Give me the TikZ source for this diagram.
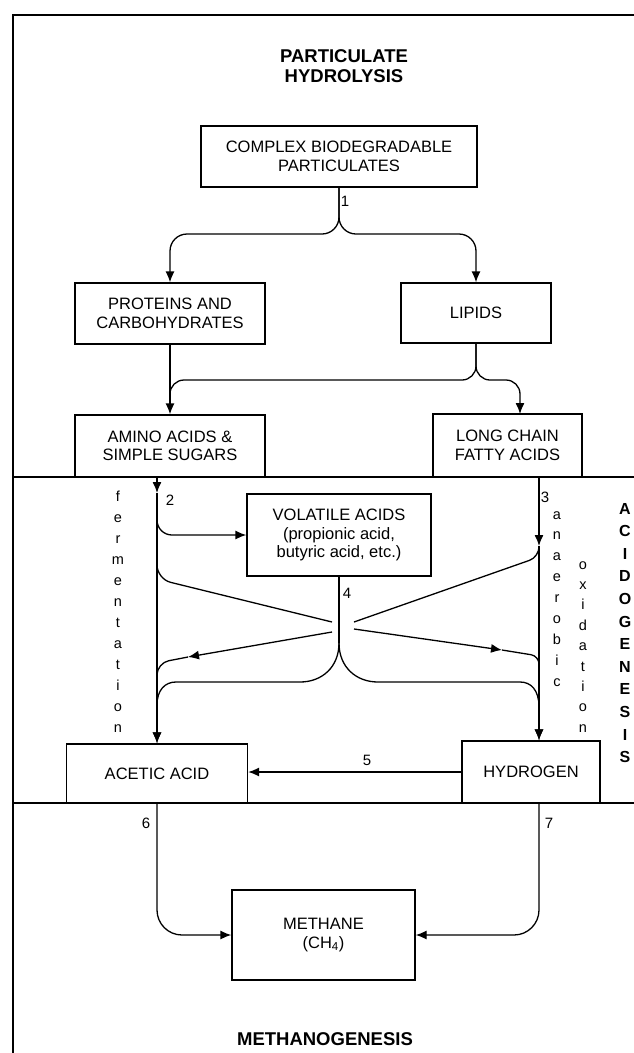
\documentclass[tikz,border=0pt]{standalone}
\usepackage{fontspec}
\setmainfont{Liberation Sans}
\usetikzlibrary{arrows.meta}
\tikzset{
  ln/.style={line width=1.3pt},
  arr/.style={-{Latex[length=11pt,width=9pt]}},
  bx/.style={draw, line width=1.3pt, align=center, inner sep=0pt,
    font=\fontsize{16.5}{18.5}\selectfont},
  lbl/.style={inner sep=0pt, font=\fontsize{15}{17}\selectfont},
  vl/.style={inner sep=0pt, font=\fontsize{14.5}{16}\selectfont},
  vcap/.style={inner sep=0pt, font=\fontsize{16}{17}\selectfont\bfseries},
  ttl/.style={inner sep=0pt, align=center, font=\fontsize{18.5}{20.5}\selectfont\bfseries}
}
\begin{document}
\begin{tikzpicture}[x=1pt,y=-1pt]
\useasboundingbox (0,0) rectangle (634,1053);
% frame and dividers
\coordinate (ftl) at (13,15);
\coordinate (ftr) at (634,15);
\coordinate (fbl) at (13,1053);
\coordinate (d1l) at (13,477);
\coordinate (d1r) at (634,477);
\coordinate (d2l) at (13,803);
\coordinate (d2r) at (634,803);
\draw[ln] (ftr) -- (ftl) -- (fbl);
\draw[ln] (d1l) -- (d1r);
\draw[ln] (d2l) -- (d2r);

% titles
\node[ttl] (t1) at (344,66) {PARTICULATE\\HYDROLYSIS};
\node[ttl] (t2) at (325,1039) {METHANOGENESIS};

% boxes
\node[bx, minimum width=276pt, minimum height=61pt] (complex) at (339,156.5) {COMPLEX BIODEGRADABLE\\PARTICULATES};
\node[bx, minimum width=190pt, minimum height=61pt] (proteins) at (170,313.5) {PROTEINS AND\\CARBOHYDRATES};
\node[bx, minimum width=150pt, minimum height=60pt] (lipids) at (476,313) {LIPIDS};
\node[bx, minimum width=190pt, minimum height=62pt] (amino) at (170,446) {AMINO ACIDS \&\\SIMPLE SUGARS};
\node[bx, minimum width=149pt, minimum height=63pt] (longchain) at (507.5,445.5) {LONG CHAIN\\FATTY ACIDS};
\node[bx, minimum width=184pt, minimum height=82pt] (volatile) at (339,535) {VOLATILE ACIDS\\(propionic acid,\\butyric acid, etc.)};
\node[bx, minimum width=181pt, minimum height=59pt] (acetic) at (157,773.5) {ACETIC ACID};
\node[bx, minimum width=138pt, minimum height=62pt] (hydrogen) at (531,772) {HYDROGEN};
\node[bx, minimum width=183pt, minimum height=90pt] (methane) at (323.5,935) {METHANE\\(CH\textsubscript{4})};

% hydrolysis
\coordinate (b1) at (339,234);
\draw[ln, arr, rounded corners=17pt] (complex.south) -- (b1) -| (proteins.north);
\draw[ln, arr, rounded corners=17pt] (complex.south) -- (b1) -| (lipids.north);
\draw[ln, arr] (proteins.south) -- (amino.north);
\coordinate (b2) at (476,380);
\coordinate (m2) at (170,400);
\coordinate (lcin) at (520,414);
\draw[ln, rounded corners=14pt] (lipids.south) -- (b2) -| (m2);
\draw[ln, arr, rounded corners=14pt] (lipids.south) -- (b2) -| (lcin);

% fermentation line (2)
\coordinate (f0) at (157,477);
\coordinate (f1) at (157,493);
\draw[ln, arr] (f0) -- (f1);
\draw[ln, arr] (f1) -- (acetic.north);
\draw[ln, arr, rounded corners=15pt] (f1) |- (volatile.west);

% anaerobic oxidation line (3)
\coordinate (o0) at (539,477);
\coordinate (o1) at (539,546);
\draw[ln, arr] (o0) -- (o1);
\draw[ln, arr] (o1) -- (o1 |- hydrogen.north);

% crossing diagonals
\coordinate (ulc) at (157,579);
\coordinate (ule) at (332,622);
\draw[ln, rounded corners=14pt] (f1) -- (ulc) -- (ule);
\coordinate (urc) at (539,557);
\coordinate (ure) at (354,622);
\draw[ln, rounded corners=10pt] (o1) -- (urc) -- (ure);
\coordinate (lls) at (332,632);
\coordinate (lla) at (188,657);
\coordinate (llc) at (157,663);
\coordinate (llx) at (157,690);
\draw[ln, arr] (lls) -- (lla);
\draw[ln, rounded corners=12pt] (lla) -- (llc) -- (llx);
\coordinate (lrs) at (354,629);
\coordinate (lra) at (502,650);
\coordinate (lrc) at (539,656);
\coordinate (lrx) at (539,680);
\draw[ln, arr] (lrs) -- (lra);
\draw[ln, rounded corners=8pt] (lra) -- (lrc) -- (lrx);

% stem 4
\coordinate (s4) at (339,643);
\draw[ln] (volatile.south) -- (s4);
\draw[ln, arr] (s4) .. controls (339,667) and (322,682) .. (300,682) -- (176,682)
  .. controls (165,682) and (157,690) .. (157,705) -- (acetic.north);
\draw[ln, arr] (s4) .. controls (339,667) and (356,682) .. (378,682) -- (520,682)
  .. controls (531,682) and (539,690) .. (539,707) -- (o1 |- hydrogen.north);

% 5
\draw[ln, arr] (hydrogen.west) -- (hydrogen.west -| acetic.east);

% methanogenesis
\draw[ln, arr, rounded corners=25pt] (acetic.south) |- (methane.west);
\draw[ln, arr, rounded corners=25pt] (o1 |- hydrogen.south) |- (methane.east);

% labels
\node[lbl] (n1) at (345,201) {1};
\node[lbl] (n2) at (170,500) {2};
\node[lbl] (n3) at (545,497) {3};
\node[lbl] (n4) at (347,593) {4};
\node[lbl] (n5) at (367,760) {5};
\node[lbl] (n6) at (146,823) {6};
\node[lbl] (n7) at (549,823) {7};

% vertical words
\foreach \c [count=\i from 0] in {f,e,r,m,e,n,t,a,t,i,o,n}
  \node[vl, anchor=base] (fe\i) at (118,{501+21*\i}) {\c};
\foreach \c [count=\i from 0] in {a,n,a,e,r,o,b,i,c}
  \node[vl, anchor=base] (an\i) at (557,{519+20.9*\i}) {\c};
\foreach \c [count=\i from 0] in {o,x,i,d,a,t,i,o,n}
  \node[vl, anchor=base] (ox\i) at (583,{569+20.4*\i}) {\c};
\foreach \c [count=\i from 0] in {A,C,I,D,O,G,E,N,E,S,I,S}
  \node[vcap, anchor=base] (ac\i) at (625,{514+22.6*\i}) {\c};
\end{tikzpicture}
\end{document}
